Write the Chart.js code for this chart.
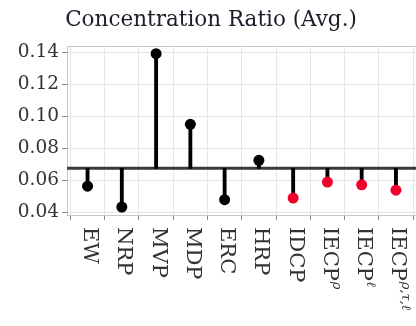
<!DOCTYPE html>
<html>
<head>
<meta charset="utf-8">
<script src="https://cdn.jsdelivr.net/npm/chart.js@4"></script>
<style>
    html, body { margin: 0; padding: 0; overflow: hidden; background: #fff; }
    #wrap { width: 422px; height: 326px; }
</style>
</head>
<body>
<div id="wrap"><canvas id="chart" width="422" height="326"></canvas></div>
<script>
// data
const categories = ["EW", "NRP", "MVP", "MDP", "ERC", "HRP", "IDCP", "IECP", "IECP", "IECP"];
const superscripts = ["", "", "", "", "", "", "", "ρ", "ℓ", "ρ,τ,ℓ"];
const ratios = [0.0563, 0.0433, 0.1392, 0.0950, 0.0479, 0.0725, 0.0489, 0.0589, 0.0572, 0.0538];
const highlighted = [false, false, false, false, false, false, true, true, true, true];
const baseline = 0.0675;
const yTicks = [0.04, 0.06, 0.08, 0.10, 0.12, 0.14];

const serif = "'DejaVu Serif', serif";

function isMajor(v) {
    return yTicks.some(t => Math.abs(t - v) < 1e-6);
}

// frame, baseline and rotated category labels
const extras = {
    id: "extras",
    beforeDatasetsDraw(chart) {
        const ctx = chart.ctx;
        const a = chart.chartArea;
        const y = chart.scales.y.getPixelForValue(baseline);
        ctx.save();
        ctx.strokeStyle = "#c8c8c8";
        ctx.lineWidth = 1;
        ctx.strokeRect(a.left + 0.5, a.top + 0.5, a.right - a.left, a.bottom - a.top);
        ctx.strokeStyle = "#3a3a3a";
        ctx.lineWidth = 3;
        ctx.beginPath();
        ctx.moveTo(a.left, y);
        ctx.lineTo(a.right, y);
        ctx.stroke();
        ctx.restore();
    },
    afterDraw(chart) {
        const ctx = chart.ctx;
        const xs = chart.scales.x;
        const top = chart.chartArea.bottom + 12;
        ctx.save();
        ctx.fillStyle = "#333";
        categories.forEach((c, i) => {
            const x = xs.getPixelForValue(i) + 2;
            ctx.save();
            ctx.translate(x, top);
            ctx.rotate(Math.PI / 2);
            ctx.textAlign = "left";
            ctx.textBaseline = "middle";
            ctx.font = "21px " + serif;
            ctx.fillText(c, 0, 0);
            if (superscripts[i]) {
                const w = ctx.measureText(c).width;
                ctx.font = "italic 13px " + serif;
                ctx.fillText(superscripts[i], w + 1, -7);
            }
            ctx.restore();
        });
        ctx.restore();
    }
};

const chart = new Chart(document.getElementById("chart"), {
    data: {
        datasets: [{
            type: "bar",
            data: ratios.map((v, i) => ({ x: i, y: [baseline, v] })),
            backgroundColor: "#000",
            barThickness: 3.2,
            order: 2
        }, {
            type: "scatter",
            data: ratios.map((v, i) => ({ x: i, y: v })),
            pointRadius: 5.5,
            pointBorderWidth: 0,
            pointBackgroundColor: highlighted.map(h => h ? "#f0002a" : "#000"),
            order: 1
        }]
    },
    options: {
        responsive: false,
        animation: false,
        devicePixelRatio: 1,
        layout: { padding: 0 },
        plugins: {
            legend: { display: false },
            tooltip: { enabled: false },
            title: {
                display: true,
                text: "Concentration Ratio (Avg.)",
                color: "#1c1c2a",
                font: { family: serif, size: 21.5, weight: "normal" },
                padding: { top: 8, bottom: 12.2 }
            }
        },
        scales: {
            x: {
                type: "linear",
                min: -0.6,
                max: 9.6,
                offset: false,
                afterFit: s => { s.height = 111; },
                ticks: { stepSize: 1, includeBounds: false, display: false },
                grid: { color: "#e6e6e6", tickColor: "#888", tickLength: 5 },
                border: { display: false }
            },
            y: {
                min: 0.0383,
                max: 0.144,
                afterFit: s => { s.width = 67; },
                ticks: {
                    stepSize: 0.01,
                    includeBounds: false,
                    color: "#333",
                    padding: 3,
                    font: { family: serif, size: 18.5 },
                    callback: v => isMajor(v) ? v.toFixed(2) : ""
                },
                grid: {
                    color: c => isMajor(c.tick.value) ? "#e3e3e3" : "#efefef",
                    tickColor: c => isMajor(c.tick.value) ? "#888" : "rgba(0,0,0,0)",
                    tickLength: 5
                },
                border: { display: false }
            }
        }
    },
    plugins: [extras]
});
</script>
</body>
</html>
